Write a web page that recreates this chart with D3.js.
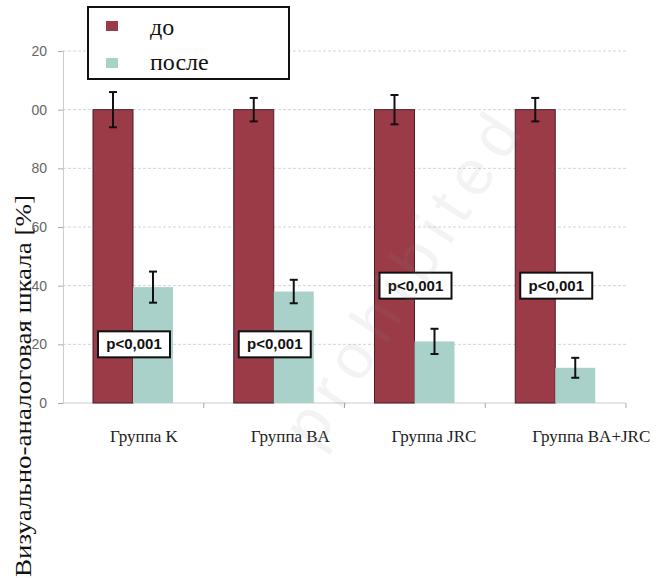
<!DOCTYPE html>
<html lang="ru">
<head>
<meta charset="UTF-8">
<title>ВАШ до и после</title>
<script src="https://cdn.jsdelivr.net/npm/d3@7/dist/d3.min.js"></script>
<style>
    body { margin: 0; background: #fff; }
    .grid line { stroke: #c9d5de; stroke-dasharray: 3,2; }
    .tick-label { font-family: Arial, "Liberation Sans", sans-serif; font-size: 14px; fill: #666; }
    .serif { font-family: "Liberation Serif", "Times New Roman", Times, serif; }
    .cat-label { font-size: 17px; fill: #222; }
    .pval { font-family: Arial, "Liberation Sans", sans-serif; font-size: 15px; font-weight: bold; fill: #111; }
</style>
</head>
<body>
<script>
    // данные
    const groups = ['Группа K', 'Группа BA', 'Группа JRC', 'Группа BA+JRC'];
    const before = [100, 100, 100, 100];
    const beforeErr = [6, 4, 5, 4];
    const after = [39.5, 38, 21, 12];
    const afterErr = [5.3, 4, 4.3, 3.4];
    const pTexts = ['p<0,001', 'p<0,001', 'p<0,001', 'p<0,001'];
    const pLevels = [20, 20, 40, 40];
    const yTicks = [0, 20, 40, 60, 80, 100, 120];
    const yTickLabels = ['0', '20', '40', '60', '80', '00', '20'];
    const seriesNames = ['до', 'после'];
    const colors = ['#9b3b48', '#a9d0c9'];

    const width = 671, height = 578;
    const svg = d3.select('body').append('svg')
        .attr('width', width)
        .attr('height', height);

    const x = d3.scaleBand().domain(groups).range([63, 626]).padding(0);
    const y = d3.scaleLinear().domain([0, 120]).range([403, 51]);

    // сетка
    svg.append('g').attr('class', 'grid')
        .selectAll('line')
        .data(yTicks.slice(1))
        .enter().append('line')
        .attr('x1', 63).attr('x2', 626)
        .attr('y1', d => y(d)).attr('y2', d => y(d));

    // ось Y
    const yAxis = svg.append('g')
        .attr('transform', 'translate(63,0)')
        .call(d3.axisLeft(y).tickValues(yTicks).tickSize(5).tickPadding(11)
            .tickFormat((d, i) => yTickLabels[i]));
    yAxis.select('.domain').attr('stroke', '#ccc');
    yAxis.selectAll('.tick line').attr('stroke', '#aaa');
    yAxis.selectAll('.tick text').attr('class', 'tick-label').attr('font-size', null).attr('font-family', null);

    // ось X
    const xAxis = svg.append('g')
        .attr('transform', 'translate(0,403)');
    xAxis.append('line')
        .attr('x1', 63).attr('x2', 626)
        .attr('stroke', '#ccc');
    xAxis.selectAll('.xtick')
        .data(groups)
        .enter().append('line')
        .attr('x1', d => x(d) + x.bandwidth()).attr('x2', d => x(d) + x.bandwidth())
        .attr('y1', 0).attr('y2', 5)
        .attr('stroke', '#aaa');

    const barW = 40;
    const offset = 30;

    // столбцы
    const g = svg.append('g');
    groups.forEach((grp, i) => {
        const x0 = x(grp) + offset;
        g.append('rect')
            .attr('x', x0).attr('y', y(before[i]))
            .attr('width', barW).attr('height', y(0) - y(before[i]))
            .attr('fill', colors[0])
            .attr('stroke', '#4b1c22').attr('stroke-width', 1);
        g.append('rect')
            .attr('x', x0 + barW).attr('y', y(after[i]))
            .attr('width', barW).attr('height', y(0) - y(after[i]))
            .attr('fill', colors[1]);

        // планки погрешностей
        [[before[i], beforeErr[i], x0 + barW / 2], [after[i], afterErr[i], x0 + barW * 1.5]].forEach(e => {
            const cx = e[2];
            const top = y(e[0] + e[1]), bot = y(e[0] - e[1]);
            g.append('line').attr('x1', cx).attr('x2', cx).attr('y1', top).attr('y2', bot)
                .attr('stroke', '#111').attr('stroke-width', 2);
            g.append('line').attr('x1', cx - 4).attr('x2', cx + 4).attr('y1', top).attr('y2', top)
                .attr('stroke', '#111').attr('stroke-width', 2);
            g.append('line').attr('x1', cx - 4).attr('x2', cx + 4).attr('y1', bot).attr('y2', bot)
                .attr('stroke', '#111').attr('stroke-width', 2);
        });

        // p-значения
        const px = x(grp) + offset + barW + 1;
        const py = y(pLevels[i]);
        g.append('rect')
            .attr('x', px - 36).attr('y', py - 13)
            .attr('width', 72).attr('height', 26)
            .attr('fill', '#fff').attr('stroke', '#111').attr('stroke-width', 2);
        g.append('text').attr('class', 'pval')
            .attr('x', px).attr('y', py + 5)
            .attr('text-anchor', 'middle')
            .text(pTexts[i]);

        // подписи групп
        svg.append('text').attr('class', 'serif cat-label')
            .attr('x', x(grp) + 47).attr('y', 442)
            .text(grp);
    });

    // водяной знак
    svg.append('text')
        .attr('transform', 'translate(420,292) rotate(-57)')
        .attr('text-anchor', 'middle')
        .attr('font-family', 'Arial, sans-serif')
        .attr('font-size', 64)
        .attr('textLength', 380)
        .attr('fill', '#888').attr('fill-opacity', 0.1)
        .text('prohibited');

    // легенда
    const legend = svg.append('g');
    legend.append('rect')
        .attr('x', 88).attr('y', 7).attr('width', 201).attr('height', 72)
        .attr('fill', '#fff').attr('stroke', '#111').attr('stroke-width', 2);
    seriesNames.forEach((s, i) => {
        legend.append('rect')
            .attr('x', 106).attr('y', 21 + i * 37)
            .attr('width', 12).attr('height', 10)
            .attr('fill', colors[i]);
        legend.append('text')
            .attr('class', 'serif')
            .attr('x', 150).attr('y', 35 + i * 35)
            .attr('font-size', 24)
            .attr('fill', '#111')
            .text(s);
    });

    // подпись оси Y
    svg.append('text')
        .attr('class', 'serif')
        .attr('transform', 'translate(31,386) rotate(-90)')
        .attr('text-anchor', 'middle')
        .attr('font-size', 24)
        .attr('textLength', 382)
        .attr('lengthAdjust', 'spacingAndGlyphs')
        .attr('fill', '#111')
        .text('Визуально-аналоговая шкала [%]');
</script>
</body>
</html>
